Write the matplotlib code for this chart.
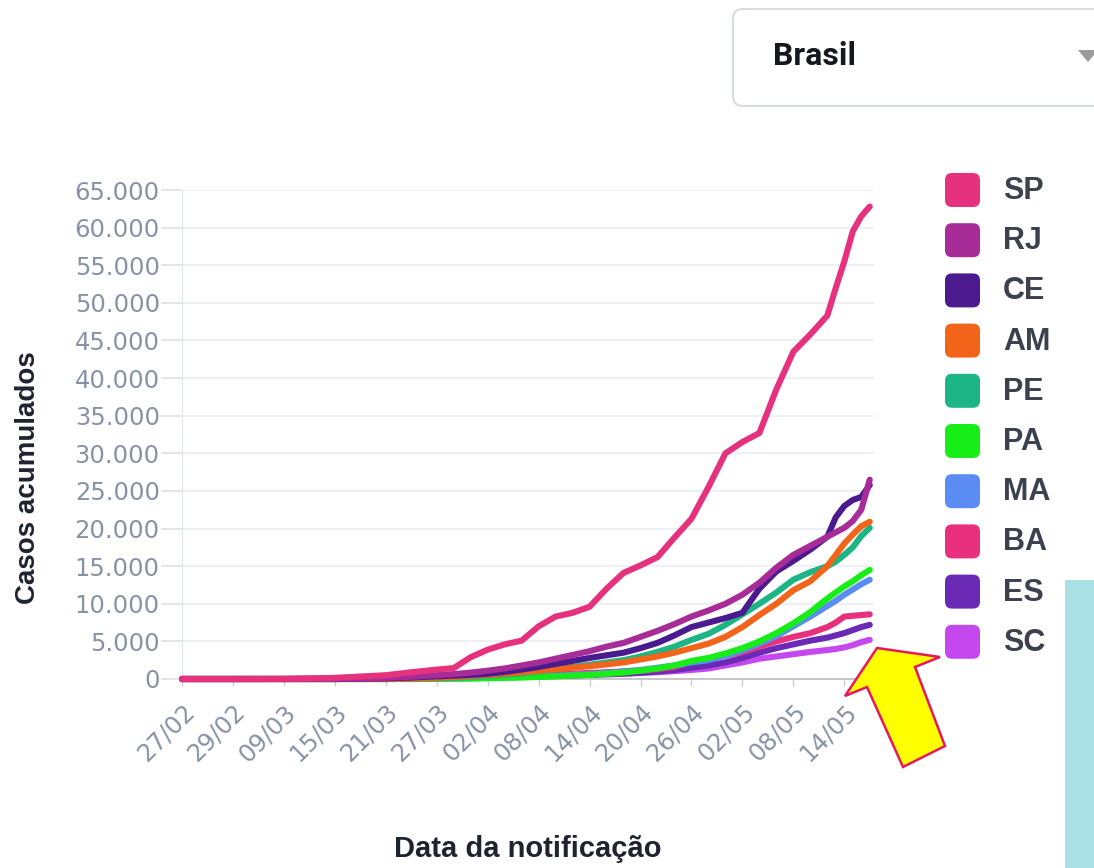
import matplotlib.pyplot as plt
from matplotlib.patches import FancyBboxPatch, Polygon, Rectangle
from matplotlib.ticker import FuncFormatter

W, H = 1094, 868

# posição do dia na série (categorias do eixo x)
dias = [0, 6, 12, 18, 24, 27, 30, 32, 34, 36, 38, 40, 42, 44, 46, 48, 50, 52,
        54, 56, 58, 60, 62, 64, 66, 68, 70, 72, 74, 76, 77, 78, 79, 80, 81]
rotulos_x = ['27/02', '29/02', '09/03', '15/03', '21/03', '27/03', '02/04',
             '08/04', '14/04', '20/04', '26/04', '02/05', '08/05', '14/05']

estados = ['SP', 'RJ', 'CE', 'AM', 'PE', 'PA', 'MA', 'BA', 'ES', 'SC']
cores = ['#e6317e', '#a72c98', '#4b1a8e', '#f26419', '#1db584',
         '#17ee17', '#5b8cf3', '#e8307f', '#6a2ab6', '#c548ef']

sp = [0, 0, 10, 150, 500, 900, 1250, 1450, 2900, 3900, 4600, 5100, 7000, 8300, 8800,
      9600, 12000, 14100, 15100, 16200, 18800, 21300, 25500, 30000, 31500, 32700,
      38500, 43500, 45800, 48300, 52000, 55500, 59500, 61500, 62800]
rj = [0, 0, 0, 20, 150, 300, 500, 650, 850, 1100, 1400, 1800, 2200, 2700, 3200,
      3700, 4300, 4800, 5600, 6400, 7300, 8300, 9100, 10000, 11200, 12800,
      14800, 16500, 17700, 18900, 19500, 20100, 21000, 22500, 26500]
ce = [0, 0, 0, 10, 80, 200, 350, 450, 550, 700, 950, 1250, 1600, 2000, 2400,
      2800, 3150, 3500, 4100, 4800, 5800, 6900, 7500, 8100, 8800, 12000,
      14300, 15700, 17200, 18900, 21500, 23000, 23800, 24200, 25800]
am = [0, 0, 0, 0, 0, 50, 150, 250, 400, 550, 700, 900, 1100, 1300, 1500,
      1700, 1950, 2200, 2600, 3000, 3500, 4100, 4700, 5600, 6900, 8500,
      10000, 11800, 13000, 15000, 16500, 18000, 19200, 20300, 20900]
pe = [0, 0, 0, 0, 0, 30, 80, 150, 250, 400, 550, 750, 1000, 1300, 1600,
      1900, 2200, 2500, 3000, 3600, 4300, 5200, 6000, 7200, 8600, 10000,
      11500, 13200, 14200, 15000, 15600, 16500, 17500, 19000, 20100]
pa = [0, 0, 0, 0, 0, 0, 20, 40, 60, 100, 150, 200, 270, 350, 450,
      550, 700, 850, 1100, 1400, 1800, 2400, 2800, 3400, 4100, 5000,
      6100, 7400, 8900, 10700, 11500, 12300, 13000, 13800, 14500]
ma = [0, 0, 0, 0, 0, 0, 30, 60, 100, 150, 200, 250, 350, 450, 550,
      650, 800, 1000, 1200, 1500, 1800, 2200, 2500, 3100, 3800, 4700,
      5700, 7000, 8300, 9700, 10400, 11200, 11900, 12600, 13200]
ba = [0, 0, 0, 0, 50, 100, 150, 200, 250, 300, 380, 450, 520, 600, 700,
      800, 900, 1000, 1150, 1300, 1600, 2300, 2700, 3100, 3600, 4300,
      5000, 5600, 6100, 6900, 7500, 8300, 8400, 8500, 8600]
es = [0, 0, 0, 0, 30, 60, 100, 130, 160, 200, 250, 300, 350, 400, 470,
      550, 620, 700, 820, 1000, 1200, 1500, 1800, 2200, 2800, 3500,
      4100, 4600, 5100, 5500, 5800, 6100, 6500, 6900, 7200]
sc = [0, 0, 0, 0, 50, 100, 150, 180, 210, 250, 300, 350, 400, 450, 520,
      600, 680, 750, 820, 900, 1050, 1200, 1400, 1800, 2200, 2700,
      3000, 3300, 3600, 3850, 4000, 4200, 4500, 4900, 5200]
series = [sp, rj, ce, am, pe, pa, ma, ba, es, sc]

fig = plt.figure(figsize=(W / 100, H / 100), dpi=100)
fig.patch.set_facecolor('white')

ax = fig.add_axes([182 / W, 1 - 679 / H, (874 - 182) / W, (679 - 190) / H])
# desenha de trás pra frente, SP por cima
for nome, cor, vals in reversed(list(zip(estados, cores, series))):
    ax.plot(dias, vals, color=cor, lw=4.4, solid_joinstyle='round',
            solid_capstyle='round', clip_on=False, zorder=3)

ax.set_xlim(0, 81.5)
ax.set_ylim(0, 65000)
ax.set_yticks(range(0, 65001, 5000))
ax.yaxis.set_major_formatter(FuncFormatter(lambda v, p: f'{int(v):,}'.replace(',', '.')))
ax.set_xticks(range(0, 6 * len(rotulos_x), 6))
ax.set_xticklabels(rotulos_x, rotation=45, ha='right', rotation_mode='anchor')
ax.tick_params(axis='y', colors='#dde1e7', labelcolor='#8793a5', labelsize=17.5,
               length=15, width=1.2, pad=1)
ax.tick_params(axis='x', colors='#c9cdd4', labelcolor='#8793a5', labelsize=17.5,
               length=5, width=1, pad=10)
ax.grid(axis='y', color='#edf0f5', lw=1.5)
ax.set_axisbelow(True)
for s in ['top', 'right']:
    ax.spines[s].set_visible(False)
ax.spines['left'].set_color('#e3e7ed')
ax.spines['bottom'].set_color('#bdbdbd')
ax.spines['bottom'].set_linewidth(1.2)

# camada por cima em pixels para legenda, caixa e seta
ov = fig.add_axes([0, 0, 1, 1])
ov.set_xlim(0, W)
ov.set_ylim(H, 0)
ov.axis('off')
ov.patch.set_alpha(0)

ov.text(28, 478, 'Casos acumulados', rotation=90, ha='center', va='center',
        fontsize=20, fontweight='bold', family='Liberation Sans', color='#1e2330')
ov.text(528, 849, 'Data da notificação', ha='center', va='center',
        fontsize=21, fontweight='bold', family='Liberation Sans', color='#1e2330')

for i, (nome, cor) in enumerate(zip(estados, cores)):
    yc = 190 + i * 50.2
    ov.add_patch(FancyBboxPatch((945, yc - 17), 35, 34,
                                boxstyle='round,pad=0,rounding_size=7',
                                fc=cor, ec='none'))
    ov.text(1003, yc + 1, nome, ha='left', va='center', fontsize=22,
            fontweight='bold', family='Liberation Sans', color='#3b424e')

# seletor "Brasil"
ov.add_patch(FancyBboxPatch((733, 9), 400, 97, boxstyle='round,pad=0,rounding_size=10',
                            fc='white', ec='#d7dce3', lw=1.5))
ov.text(773, 56, 'Brasil', ha='left', va='center', fontsize=23,
        fontweight='bold', family=['Roboto', 'DejaVu Sans'], color='#15181e')
ov.add_patch(Polygon([(1078, 50), (1098, 50), (1088, 62)], closed=True,
                     fc='#9b9b9b', ec='none'))

# faixa azul clara
ov.add_patch(Rectangle((1065, 580), 40, 300, fc='#a8e0e3', ec='none'))

# seta amarela
seta = [(877, 648), (940, 657), (915, 667), (945, 746), (903, 767),
        (867, 687), (845, 696)]
ov.add_patch(Polygon(seta, closed=True, fc='#ffff00', ec='#e8185c', lw=1.8,
                     joinstyle='miter'))

fig.savefig('out.png', dpi=100)
